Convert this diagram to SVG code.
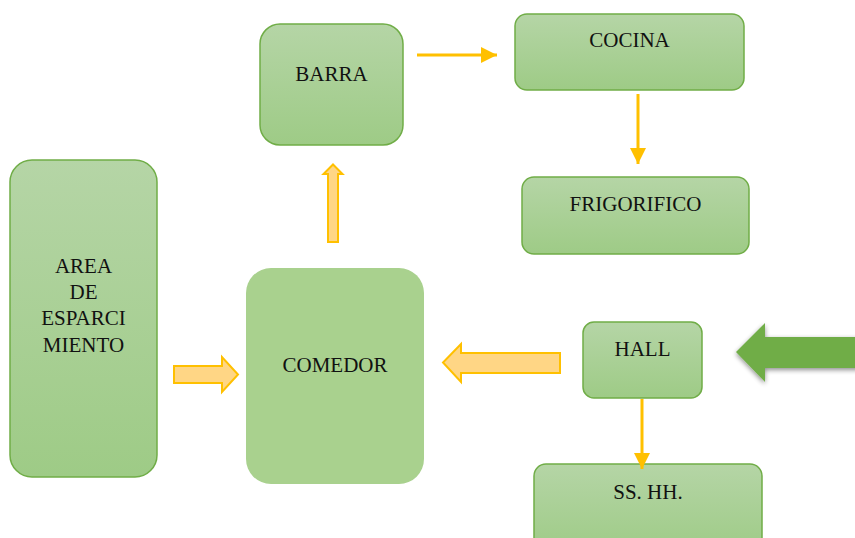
<svg xmlns="http://www.w3.org/2000/svg" width="855" height="538" viewBox="0 0 855 538">
  <defs>
    <linearGradient id="boxFill" x1="0" y1="0" x2="0" y2="1">
      <stop offset="0" stop-color="#b5d5a6"/>
      <stop offset="1" stop-color="#9ecb86"/>
    </linearGradient>
    <marker id="tri" viewBox="0 0 16 16" refX="16" refY="8" markerWidth="16" markerHeight="16" markerUnits="userSpaceOnUse" orient="auto">
      <path d="M0,0 L16,8 L0,16 Z" fill="#ffc000"/>
    </marker>
    <filter id="shadow" x="-20%" y="-30%" width="140%" height="160%">
      <feGaussianBlur in="SourceAlpha" stdDeviation="2.5"/>
      <feOffset dx="0" dy="2" result="b"/>
      <feComponentTransfer><feFuncA type="linear" slope="0.45"/></feComponentTransfer>
      <feMerge><feMergeNode/><feMergeNode in="SourceGraphic"/></feMerge>
    </filter>
  </defs>
  <style>
    .box { fill: url(#boxFill); stroke: #70ad47; stroke-width: 1.5; }
    .lbl { font-family: 'Liberation Serif', 'DejaVu Serif', serif; font-size: 21px; fill: #111; text-anchor: middle; }
    .line { stroke: #ffc000; stroke-width: 3; fill: none; }
    .block { fill: #ffd685; stroke: #ffc000; stroke-width: 2; stroke-linejoin: miter; }
  </style>
  <rect width="855" height="538" fill="#ffffff"/>

  <g id="barra">
    <rect class="box" x="260" y="24" width="143" height="121" rx="20"/>
    <text class="lbl" x="331.5" y="81">BARRA</text>
  </g>
  <g id="cocina">
    <rect class="box" x="515" y="14" width="229" height="76" rx="12"/>
    <text class="lbl" x="629.5" y="47">COCINA</text>
  </g>
  <g id="frigorifico">
    <rect class="box" x="522" y="177" width="227" height="77" rx="12"/>
    <text class="lbl" x="635.5" y="211">FRIGORIFICO</text>
  </g>
  <g id="area">
    <rect class="box" x="10" y="160" width="147" height="317" rx="22"/>
    <text class="lbl" x="83.5" y="273">AREA</text>
    <text class="lbl" x="83.5" y="299">DE</text>
    <text class="lbl" x="83.5" y="325">ESPARCI</text>
    <text class="lbl" x="83.5" y="352">MIENTO</text>
  </g>
  <g id="comedor">
    <rect x="246" y="268" width="178" height="216" rx="25" fill="#a9d18e"/>
    <text class="lbl" x="335" y="372">COMEDOR</text>
  </g>
  <g id="hall">
    <rect class="box" x="583" y="322" width="119" height="76" rx="11"/>
    <text class="lbl" x="642.5" y="356">HALL</text>
  </g>
  <g id="sshh">
    <rect class="box" x="534" y="464" width="228" height="90" rx="12"/>
    <text class="lbl" x="648" y="499">SS. HH.</text>
  </g>

  <g id="connectors">
    <line class="line" x1="417" y1="55" x2="497" y2="55" marker-end="url(#tri)"/>
    <line class="line" x1="638" y1="94" x2="638" y2="164" marker-end="url(#tri)"/>
    <line class="line" x1="642" y1="399" x2="642" y2="469" marker-end="url(#tri)"/>
    <!-- block arrow into COMEDOR from the left -->
    <path class="block" d="M174,366 L222,366 L222,357 L238,374.5 L222,392 L222,383 L174,383 Z"/>
    <!-- block arrow from HALL towards COMEDOR -->
    <path class="block" d="M560,353 L461,353 L461,344 L443,362.5 L461,382 L461,373 L560,373 Z"/>
    <!-- block arrow up towards BARRA -->
    <path class="block" d="M328,242 L328,174 L323.5,174 L333,164.5 L342.5,174 L338,174 L338,242 Z"/>
    <!-- entrance arrow -->
    <path d="M860,337 L765,337 L765,323 L736,352 L765,382 L765,368 L860,368 Z" fill="#70ad47" filter="url(#shadow)"/>
  </g>
</svg>
